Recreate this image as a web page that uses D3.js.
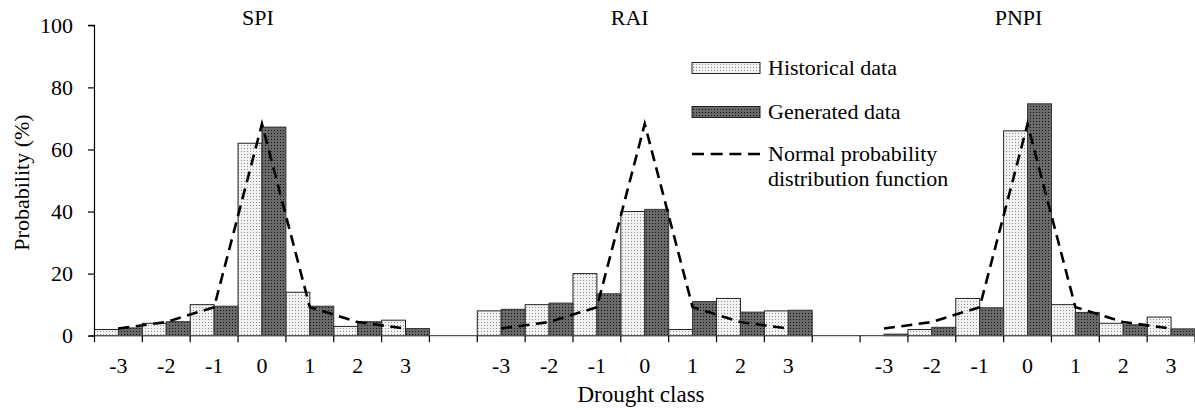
<!DOCTYPE html>
<html>
<head>
<meta charset="utf-8">
<script src="https://cdn.jsdelivr.net/npm/d3@7"></script>
<style>
  html, body { margin: 0; padding: 0; background: #fff; }
  svg { display: block; font-family: "Liberation Serif", "Times New Roman", serif; }
</style>
</head>
<body>
<svg id="chart" width="1195" height="410"></svg>
<script>
// Drought class probabilities (%) for three drought indices
const indices = ["SPI", "RAI", "PNPI"];
const classes = [-3, -2, -1, 0, 1, 2, 3];
const seriesNames = ["Historical data", "Generated data"];

const spiHistorical = [2, 4, 10, 62, 14, 3, 5];
const spiGenerated  = [2.5, 4.5, 9.5, 67.2, 9.5, 4.5, 2.3];
const raiHistorical = [8, 10, 20, 40, 2, 12, 8];
const raiGenerated  = [8.5, 10.5, 13.5, 40.7, 11, 7.6, 8.2];
const pnpiHistorical = [0, 2, 12, 66, 10, 4, 6];
const pnpiGenerated  = [0.5, 2.7, 9, 74.7, 7.5, 3.5, 2.2];
// Normal probability distribution function per class
const normalPdf = [2.3, 4.4, 9.2, 68.2, 9.2, 4.4, 2.3];

const yTicks = [0, 20, 40, 60, 80, 100];

const panelData = {
  SPI:  { hist: spiHistorical,  gen: spiGenerated },
  RAI:  { hist: raiHistorical,  gen: raiGenerated },
  PNPI: { hist: pnpiHistorical, gen: pnpiGenerated }
};

const svg = d3.select("#chart");
const W = 1195, H = 410;
const margin = { left: 94.5, right: 0, top: 25.3, bottom: 74.3 };
const y0 = H - margin.bottom;

// Patterns: light stipple for historical, dark stipple for generated
const defs = svg.append("defs");
const pHist = defs.append("pattern").attr("id", "patHist")
  .attr("patternUnits", "userSpaceOnUse").attr("width", 3).attr("height", 3);
pHist.append("rect").attr("width", 3).attr("height", 3).attr("fill", "#f2f2f2");
pHist.append("rect").attr("x", 1).attr("y", 1).attr("width", 1).attr("height", 1).attr("fill", "#8e8e8e");
const pGen = defs.append("pattern").attr("id", "patGen")
  .attr("patternUnits", "userSpaceOnUse").attr("width", 3).attr("height", 3);
pGen.append("rect").attr("width", 3).attr("height", 3).attr("fill", "#6a6a6a");
pGen.append("rect").attr("x", 1).attr("y", 1).attr("width", 1).attr("height", 1).attr("fill", "#111");

// Slots: each index has seven classes, separated by an empty slot
const slots = [];
indices.forEach((ix, k) => {
  if (k > 0) slots.push("gap" + k);
  classes.forEach(c => slots.push(ix + "|" + c));
});

const x = d3.scaleBand().domain(slots).range([margin.left, W - margin.right]).padding(0);
const xSub = d3.scaleBand().domain(["hist", "gen"]).range([0, x.bandwidth()]).padding(0);
const y = d3.scaleLinear().domain([0, 100]).range([y0, margin.top]);

const fontSize = 21;
const dash = "11,6.5";

// Bars
indices.forEach(ix => {
  const g = svg.append("g").attr("class", "bars-" + ix);
  ["hist", "gen"].forEach(s => {
    g.selectAll("rect." + s)
      .data(classes.map((c, i) => ({ c, v: panelData[ix][s][i] })))
      .join("rect")
      .attr("class", s)
      .attr("x", d => x(ix + "|" + d.c) + xSub(s))
      .attr("y", d => y(d.v))
      .attr("width", xSub.bandwidth())
      .attr("height", d => y0 - y(d.v))
      .attr("fill", s === "hist" ? "url(#patHist)" : "url(#patGen)")
      .attr("stroke", s === "hist" ? "#222" : "#333")
      .attr("stroke-width", 1);
  });
});

// X axis baseline with boundary ticks
const xAxisG = svg.append("g").attr("class", "x-axis");
xAxisG.append("line")
  .attr("x1", margin.left - 6).attr("x2", W)
  .attr("y1", y0).attr("y2", y0)
  .attr("stroke", "#555").attr("stroke-width", 1.2);
const boundaries = slots.map(s => x(s)).concat([x(slots[slots.length - 1]) + x.bandwidth()]);
xAxisG.selectAll("line.tick")
  .data(boundaries)
  .join("line").attr("class", "tick")
  .attr("x1", d => d).attr("x2", d => d)
  .attr("y1", y0).attr("y2", y0 + 6.5)
  .attr("stroke", "#000").attr("stroke-width", 1.2);
xAxisG.selectAll("text")
  .data(slots.filter(s => !s.startsWith("gap")))
  .join("text")
  .attr("x", s => x(s) + x.bandwidth() / 2)
  .attr("y", y0 + 37.5)
  .attr("text-anchor", "middle")
  .attr("font-size", fontSize + 1)
  .text(s => s.split("|")[1]);

// Y axis
const yAxis = d3.axisLeft(y).tickValues(yTicks).tickSize(6.5).tickPadding(15);
const yAxisG = svg.append("g").attr("transform", `translate(${margin.left},0)`).call(yAxis);
yAxisG.select(".domain").attr("stroke", "#000").attr("stroke-width", 1.2)
  .attr("d", `M0,${y(0)}V${y(100)}H-6.5`);
yAxisG.selectAll(".tick line").attr("stroke", "#000").attr("stroke-width", 1.2);
yAxisG.selectAll(".tick text")
  .attr("font-size", fontSize + 1)
  .attr("font-family", "Liberation Serif, Times New Roman, serif")
  .attr("fill", "#000");

// Normal PDF dashed lines
const line = d3.line()
  .x(d => d.x)
  .y(d => y(d.v));
indices.forEach(ix => {
  const pts = classes.map((c, i) => ({ x: x(ix + "|" + c) + x.bandwidth() / 2, v: normalPdf[i] }));
  svg.append("path")
    .datum(pts)
    .attr("d", line)
    .attr("fill", "none")
    .attr("stroke", "#000")
    .attr("stroke-width", 2.6)
    .attr("stroke-dasharray", dash);
});

// Panel titles
const titleOffset = { SPI: -4, RAI: -15, PNPI: -9 };
svg.selectAll("text.title")
  .data(indices)
  .join("text").attr("class", "title")
  .attr("x", ix => x(ix + "|0") + x.bandwidth() / 2 + titleOffset[ix])
  .attr("y", 25)
  .attr("text-anchor", "middle")
  .attr("font-size", fontSize + 1)
  .text(ix => ix);

// Axis titles
svg.append("text")
  .attr("transform", `translate(29,${(y(0) + y(100)) / 2 + 2}) rotate(-90)`)
  .attr("text-anchor", "middle")
  .attr("font-size", fontSize + 1)
  .text("Probability (%)");
svg.append("text")
  .attr("x", 641)
  .attr("y", 402)
  .attr("text-anchor", "middle")
  .attr("font-size", fontSize + 2)
  .text("Drought class");

// Legend
const lg = svg.append("g").attr("class", "legend").attr("transform", "translate(692,0)");
const legendRows = [
  { kind: "hist", yc: 68, lines: [seriesNames[0]] },
  { kind: "gen", yc: 112, lines: [seriesNames[1]] },
  { kind: "line", yc: 154, lines: ["Normal probability", "distribution function"] }
];
legendRows.forEach(r => {
  if (r.kind === "line") {
    lg.append("line").attr("x1", 0).attr("x2", 68).attr("y1", r.yc).attr("y2", r.yc)
      .attr("stroke", "#000").attr("stroke-width", 2.6).attr("stroke-dasharray", "12,6.7");
  } else {
    lg.append("rect").attr("x", 0).attr("y", r.yc - 5.5).attr("width", 68).attr("height", 11)
      .attr("fill", r.kind === "hist" ? "url(#patHist)" : "url(#patGen)")
      .attr("stroke", "#222").attr("stroke-width", 1);
  }
  r.lines.forEach((t, i) => {
    lg.append("text").attr("x", 76).attr("y", r.yc + 7 + i * 25)
      .attr("font-size", fontSize + 1).text(t);
  });
});
</script>
</body>
</html>
